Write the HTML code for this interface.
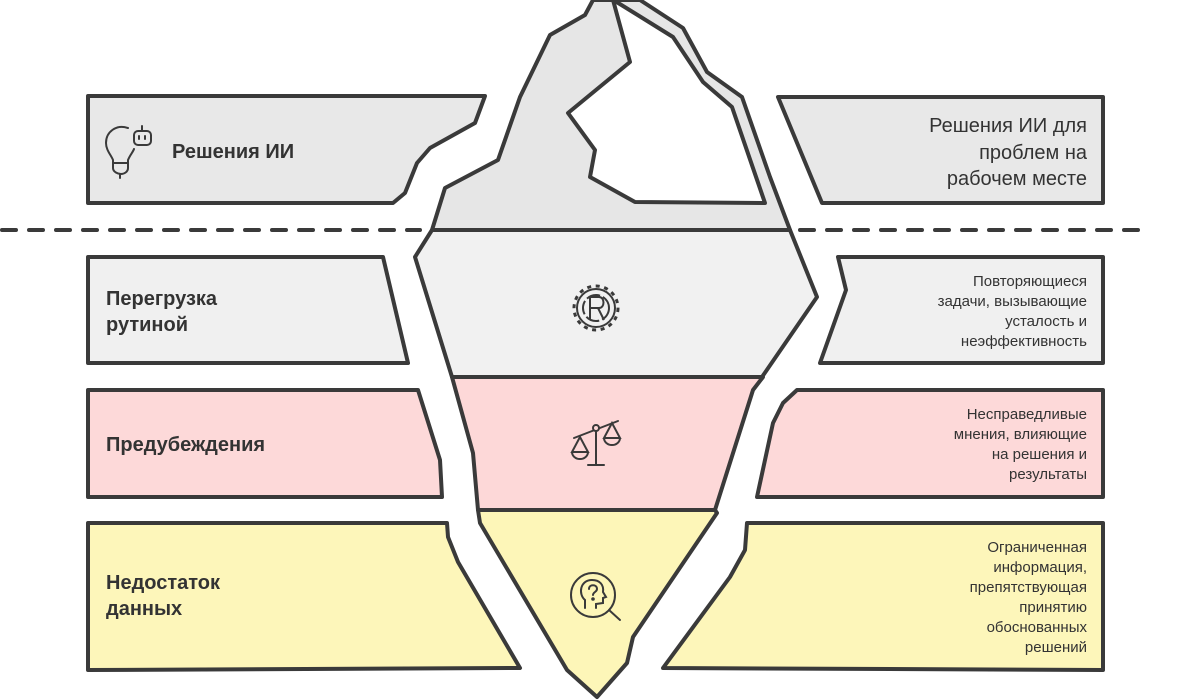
<!DOCTYPE html>
<html><head><meta charset="utf-8"><style>
html,body{margin:0;padding:0;background:#fff;width:1200px;height:700px;overflow:hidden}
svg{display:block}
.b{font-family:"Liberation Sans","Noto Sans CJK SC",sans-serif;font-weight:bold;font-size:20px;fill:#333}
.r{font-family:"Liberation Sans","Noto Sans CJK SC",sans-serif;fill:#333;text-anchor:end}
</style></head><body>
<svg width="1200" height="700" viewBox="0 0 1200 700" xmlns="http://www.w3.org/2000/svg">
<g stroke="#3a3a3a" stroke-width="4" stroke-linejoin="round" stroke-linecap="round">
<polygon points="88,96 485,96 475,123 430,148 417,163 405,193 393,203 88,203" fill="#e8e8e8"/>
<polygon points="88,257 383,257 408,363 88,363" fill="#f0f0f0"/>
<polygon points="88,390 418,390 440,460 442,497 88,497" fill="#fdd9d9"/>
<polygon points="88,523 447,523 448,537 458,562 520,668 88,670" fill="#fdf6ba"/>
<polygon points="778,97 1103,97 1103,203 822,203" fill="#e8e8e8"/>
<polygon points="838,257 1103,257 1103,363 820,363 846,290" fill="#f0f0f0"/>
<polygon points="797,390 1103,390 1103,497 757,497 773,423 783,403" fill="#fdd9d9"/>
<polygon points="747,523 1103,523 1103,670 663,668 730,577 745,550" fill="#fdf6ba"/>
<polygon points="432,230 445,188 498,160 520,97 550,35 585,15 593,0 640,0 683,28 707,72 742,97 770,177 790,230" fill="#e6e6e6"/>
<polygon points="613,0 630,62 568,113 595,150 590,177 635,202 765,203 732,107 703,82 673,37 615,1" fill="#fff"/>
<polygon points="432,230 790,230 817,297 762,377 452,377 415,257" fill="#f1f1f1"/>
<polygon points="452,377 763,377 753,390 715,510 478,510 473,453" fill="#fdd8d8"/>
<polygon points="478,510 715,510 717,513 633,637 627,663 597,697 567,670 480,523" fill="#fdf6b8"/>
</g>
<line x1="2" y1="230" x2="420" y2="230" stroke="#3a3a3a" stroke-width="4" stroke-dasharray="14 13" stroke-linecap="round"/>
<line x1="800" y1="230" x2="1140" y2="230" stroke="#3a3a3a" stroke-width="4" stroke-dasharray="14 13" stroke-linecap="round"/>
<g fill="none" stroke="#3a3a3a" stroke-width="2" stroke-linecap="round">
<path d="M128,128 C116,124 106,132 106,143 C106,150 111,155 113,160 L113,168 C113,172 118,174 121,174 C124,174 128,172 128,168 L128,160 C130,155 133,152 134,149"/>
<line x1="113" y1="163" x2="128" y2="163"/>
<line x1="120" y1="174" x2="120" y2="178"/>
<rect x="134" y="131" width="17" height="14" rx="4"/>
<line x1="142" y1="131" x2="142" y2="126"/>
<line x1="139" y1="136" x2="139" y2="139"/><line x1="145" y1="136" x2="145" y2="139"/>
</g>
<g fill="none" stroke="#3a3a3a" stroke-width="2">
<circle cx="596" cy="308" r="22" stroke-dasharray="4 4.6" stroke-width="3"/>
<circle cx="596" cy="308" r="19"/>
<circle cx="596" cy="308" r="13" stroke-dasharray="14 3"/>
<path d="M590,320 L590,297 L599,297 C605,297 605,308 599,308 L590,308 M598,308 L604,320"/>
</g>
<g fill="none" stroke="#3a3a3a" stroke-width="2" stroke-linecap="round">
<line x1="574" y1="438" x2="618" y2="421"/>
<circle cx="596" cy="428" r="3" fill="#fdd8d8"/>
<line x1="596" y1="431" x2="596" y2="465"/>
<line x1="588" y1="465" x2="604" y2="465"/>
<path d="M580,437 L572,452 L588,452 Z M572,452 A8,7 0 0 0 588,452"/>
<path d="M612,423 L604,438 L620,438 Z M604,438 A8,7 0 0 0 620,438"/>
</g>
<g fill="none" stroke="#3a3a3a" stroke-width="2" stroke-linecap="round">
<circle cx="593" cy="595" r="22"/>
<line x1="609" y1="610" x2="620" y2="620"/>
<path d="M585,608 L585,600 C578,594 580,580 592,580 C600,580 604,585 603,592 L606,597 L603,598 L603,603 L596,604 L596,608"/>
<path d="M589,589 C589,584 597,584 597,589 C597,592 593,592 593,595"/>
<circle cx="593" cy="599" r="0.8" fill="#3a3a3a"/>
</g>
<text class="b" x="172" y="158">Решения ИИ</text>
<text class="b" x="106" y="305">Перегрузка</text>
<text class="b" x="106" y="331">рутиной</text>
<text class="b" x="106" y="451">Предубеждения</text>
<text class="b" x="106" y="589">Недостаток</text>
<text class="b" x="106" y="615">данных</text>
<text class="r" font-size="20"><tspan x="1087" y="132">Решения ИИ для</tspan><tspan x="1087" y="159">проблем на</tspan><tspan x="1087" y="185">рабочем месте</tspan></text>
<text class="r" font-size="15"><tspan x="1087" y="286">Повторяющиеся</tspan><tspan x="1087" y="306">задачи, вызывающие</tspan><tspan x="1087" y="326">усталость и</tspan><tspan x="1087" y="346">неэффективность</tspan></text>
<text class="r" font-size="15"><tspan x="1087" y="419">Несправедливые</tspan><tspan x="1087" y="439">мнения, влияющие</tspan><tspan x="1087" y="459">на решения и</tspan><tspan x="1087" y="479">результаты</tspan></text>
<text class="r" font-size="15"><tspan x="1087" y="552">Ограниченная</tspan><tspan x="1087" y="572">информация,</tspan><tspan x="1087" y="592">препятствующая</tspan><tspan x="1087" y="612">принятию</tspan><tspan x="1087" y="632">обоснованных</tspan><tspan x="1087" y="652">решений</tspan></text>
</svg>
</body></html>
